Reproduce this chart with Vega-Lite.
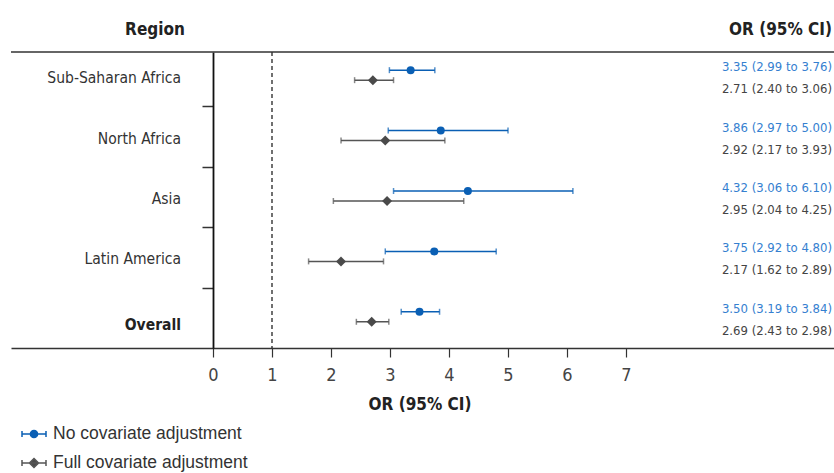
{
  "$schema": "https://vega.github.io/schema/vega-lite/v6.json",
  "width": 823,
  "height": 296,
  "padding": {"left": 11, "top": 52, "right": 0, "bottom": 125},
  "autosize": {"type": "none"},
  "background": "white",
  "config": {
    "view": {"stroke": null},
    "font": "DejaVu Sans Condensed, Liberation Sans, sans-serif"
  },
  "datasets": {
    "estimates": [
      {"region": "Sub-Saharan Africa", "row": 1, "series": "No covariate adjustment", "or": 3.35, "lo": 2.99, "hi": 3.76, "label": "3.35 (2.99 to 3.76)"},
      {"region": "Sub-Saharan Africa", "row": 1, "series": "Full covariate adjustment", "or": 2.71, "lo": 2.40, "hi": 3.06, "label": "2.71 (2.40 to 3.06)"},
      {"region": "North Africa", "row": 2, "series": "No covariate adjustment", "or": 3.86, "lo": 2.97, "hi": 5.00, "label": "3.86 (2.97 to 5.00)"},
      {"region": "North Africa", "row": 2, "series": "Full covariate adjustment", "or": 2.92, "lo": 2.17, "hi": 3.93, "label": "2.92 (2.17 to 3.93)"},
      {"region": "Asia", "row": 3, "series": "No covariate adjustment", "or": 4.32, "lo": 3.06, "hi": 6.10, "label": "4.32 (3.06 to 6.10)"},
      {"region": "Asia", "row": 3, "series": "Full covariate adjustment", "or": 2.95, "lo": 2.04, "hi": 4.25, "label": "2.95 (2.04 to 4.25)"},
      {"region": "Latin America", "row": 4, "series": "No covariate adjustment", "or": 3.75, "lo": 2.92, "hi": 4.80, "label": "3.75 (2.92 to 4.80)"},
      {"region": "Latin America", "row": 4, "series": "Full covariate adjustment", "or": 2.17, "lo": 1.62, "hi": 2.89, "label": "2.17 (1.62 to 2.89)"},
      {"region": "Overall", "row": 5, "series": "No covariate adjustment", "or": 3.50, "lo": 3.19, "hi": 3.84, "label": "3.50 (3.19 to 3.84)"},
      {"region": "Overall", "row": 5, "series": "Full covariate adjustment", "or": 2.69, "lo": 2.43, "hi": 2.98, "label": "2.69 (2.43 to 2.98)"}
    ],
    "regions": [
      {"region": "Sub-Saharan Africa", "row": 1},
      {"region": "North Africa", "row": 2},
      {"region": "Asia", "row": 3},
      {"region": "Latin America", "row": 4},
      {"region": "Overall", "row": 5}
    ],
    "headers": [
      {"text": "Region", "col": "left"},
      {"text": "OR (95% CI)", "col": "right"}
    ],
    "reference": [{"null_or": 1}]
  },
  "layer": [
    {
      "data": {"name": "estimates"},
      "transform": [{"filter": "datum.series === 'No covariate adjustment'"}],
      "mark": {"type": "rule", "color": "#0a5fb4", "strokeWidth": 1.5, "yOffset": -6},
      "encoding": {
        "x": {
          "field": "lo", "type": "quantitative",
          "scale": {"domain": [-3.4237, 10.5254], "nice": false, "zero": false},
          "axis": {
            "orient": "bottom", "values": [0, 1, 2, 3, 4, 5, 6, 7], "format": "d", "grid": false,
            "domainColor": "#333333", "domainWidth": 1.5,
            "tickColor": "#333333", "tickWidth": 1.2, "tickSize": 9,
            "labelFontSize": 18, "labelColor": "#444444", "labelPadding": 9,
            "title": "OR (95% CI)", "titleFontSize": 17, "titleFontWeight": "bold", "titleColor": "#222222",
            "titleX": 408.5, "titleY": 61, "titleBaseline": "alphabetic", "titleAlign": "center"
          }
        },
        "x2": {"field": "hi"},
        "y": {
          "field": "row", "type": "quantitative",
          "scale": {"domain": [0.6, 5.5], "reverse": true, "nice": false, "zero": false},
          "axis": {
            "orient": "left", "offset": -202, "values": [1.5, 2.5, 3.5, 4.5], "labels": false, "grid": false,
            "tickSize": 11, "tickColor": "#333333", "tickWidth": 1.5,
            "domainColor": "#111111", "domainWidth": 1.8, "title": null
          }
        }
      }
    },
    {
      "data": {"name": "reference"},
      "mark": {"type": "rule", "color": "#111111", "strokeWidth": 1.2, "strokeDash": [4, 3]},
      "encoding": {"x": {"field": "null_or", "type": "quantitative"}}
    },
    {
      "data": {"values": [{"line": "top"}]},
      "mark": {"type": "rule", "color": "#333333", "strokeWidth": 1.5},
      "encoding": {"y": {"datum": 0.6, "type": "quantitative"}}
    },
    {
      "data": {"name": "estimates"},
      "transform": [{"filter": "datum.series === 'No covariate adjustment'"}],
      "mark": {"type": "tick", "orient": "vertical", "color": "#0a5fb4", "size": 6, "thickness": 1.5, "yOffset": -6},
      "encoding": {"x": {"field": "lo", "type": "quantitative"}, "y": {"field": "row", "type": "quantitative"}}
    },
    {
      "data": {"name": "estimates"},
      "transform": [{"filter": "datum.series === 'No covariate adjustment'"}],
      "mark": {"type": "tick", "orient": "vertical", "color": "#0a5fb4", "size": 6, "thickness": 1.5, "yOffset": -6},
      "encoding": {"x": {"field": "hi", "type": "quantitative"}, "y": {"field": "row", "type": "quantitative"}}
    },
    {
      "data": {"name": "estimates"},
      "transform": [{"filter": "datum.series === 'Full covariate adjustment'"}],
      "mark": {"type": "rule", "color": "#555555", "strokeWidth": 1.5, "yOffset": 4},
      "encoding": {"x": {"field": "lo", "type": "quantitative"}, "x2": {"field": "hi"}, "y": {"field": "row", "type": "quantitative"}}
    },
    {
      "data": {"name": "estimates"},
      "transform": [{"filter": "datum.series === 'Full covariate adjustment'"}],
      "mark": {"type": "tick", "orient": "vertical", "color": "#555555", "size": 6, "thickness": 1.5, "yOffset": 4},
      "encoding": {"x": {"field": "lo", "type": "quantitative"}, "y": {"field": "row", "type": "quantitative"}}
    },
    {
      "data": {"name": "estimates"},
      "transform": [{"filter": "datum.series === 'Full covariate adjustment'"}],
      "mark": {"type": "tick", "orient": "vertical", "color": "#555555", "size": 6, "thickness": 1.5, "yOffset": 4},
      "encoding": {"x": {"field": "hi", "type": "quantitative"}, "y": {"field": "row", "type": "quantitative"}}
    },
    {
      "data": {"name": "estimates"},
      "transform": [{"filter": "datum.series === 'No covariate adjustment'"}],
      "mark": {"type": "point", "filled": true, "shape": "circle", "size": 64, "opacity": 1, "color": "#0a5fb4", "yOffset": -6},
      "encoding": {
        "x": {"field": "or", "type": "quantitative"},
        "y": {"field": "row", "type": "quantitative"}
      }
    },
    {
      "data": {"name": "estimates"},
      "transform": [{"filter": "datum.series === 'Full covariate adjustment'"}],
      "mark": {"type": "point", "filled": true, "shape": "diamond", "size": 100, "opacity": 1, "color": "#4a4a4a", "yOffset": 4},
      "encoding": {
        "x": {"field": "or", "type": "quantitative"},
        "y": {"field": "row", "type": "quantitative"}
      }
    },
    {
      "data": {"name": "estimates"},
      "mark": {"type": "point", "filled": true, "opacity": 0, "strokeWidth": 1.5},
      "encoding": {
        "x": {"field": "or", "type": "quantitative"},
        "y": {"field": "row", "type": "quantitative"},
        "fill": {
          "field": "series", "type": "nominal",
          "scale": {"domain": ["No covariate adjustment", "Full covariate adjustment"], "range": ["#0a5fb4", "#4a4a4a"]},
          "legend": {
            "orient": "none", "legendX": 10, "legendY": 369, "title": null, "padding": 0,
            "rowPadding": 7, "labelOffset": 6, "labelFont": "Liberation Sans", "labelFontSize": 17.5, "labelColor": "#333333",
            "labelLimit": 400, "symbolSize": 576, "symbolStrokeWidth": 1.5, "symbolOpacity": 1
          }
        },
        "stroke": {
          "field": "series", "type": "nominal",
          "scale": {"domain": ["No covariate adjustment", "Full covariate adjustment"], "range": ["#0a5fb4", "#555555"]},
          "legend": {
            "orient": "none", "legendX": 10, "legendY": 369, "title": null, "padding": 0,
            "rowPadding": 7, "labelOffset": 6, "labelFont": "Liberation Sans", "labelFontSize": 17.5, "labelColor": "#333333",
            "labelLimit": 400, "symbolSize": 576, "symbolStrokeWidth": 1.5, "symbolOpacity": 1
          }
        },
        "shape": {
          "field": "series", "type": "nominal",
          "scale": {
            "domain": ["No covariate adjustment", "Full covariate adjustment"],
            "range": [
              "M-1,0H1M-1,-0.25V0.25M1,-0.25V0.25M-0.3,0A0.3,0.3 0 1,0 0.3,0A0.3,0.3 0 1,0 -0.3,0Z",
              "M-1,0H1M-1,-0.25V0.25M1,-0.25V0.25M0,-0.38L0.38,0L0,0.38L-0.38,0Z"
            ]
          },
          "legend": {
            "orient": "none", "legendX": 10, "legendY": 369, "title": null, "padding": 0,
            "rowPadding": 7, "labelOffset": 6, "labelFont": "Liberation Sans", "labelFontSize": 17.5, "labelColor": "#333333",
            "labelLimit": 400, "symbolSize": 576, "symbolStrokeWidth": 1.5, "symbolOpacity": 1
          }
        }
      }
    },
    {
      "data": {"name": "regions"},
      "transform": [{"filter": "datum.region !== 'Overall'"}],
      "mark": {"type": "text", "align": "right", "baseline": "alphabetic", "dx": -32, "dy": 7, "fontSize": 15.5, "color": "#333333"},
      "encoding": {"x": {"datum": 0, "type": "quantitative"}, "y": {"field": "row", "type": "quantitative"}, "text": {"field": "region"}}
    },
    {
      "data": {"name": "regions"},
      "transform": [{"filter": "datum.region === 'Overall'"}],
      "mark": {"type": "text", "align": "right", "baseline": "alphabetic", "dx": -32, "dy": 12, "fontSize": 15.5, "fontWeight": "bold", "color": "#222222"},
      "encoding": {"x": {"datum": 0, "type": "quantitative"}, "y": {"field": "row", "type": "quantitative"}, "text": {"field": "region"}}
    },
    {
      "data": {"name": "estimates"},
      "transform": [{"filter": "datum.series === 'No covariate adjustment'"}],
      "mark": {"type": "text", "align": "right", "baseline": "alphabetic", "dx": -2, "dy": -5, "fontSize": 13, "color": "#3580d0"},
      "encoding": {"x": {"datum": 10.5254, "type": "quantitative"}, "y": {"field": "row", "type": "quantitative"}, "text": {"field": "label"}}
    },
    {
      "data": {"name": "estimates"},
      "transform": [{"filter": "datum.series === 'Full covariate adjustment'"}],
      "mark": {"type": "text", "align": "right", "baseline": "alphabetic", "dx": -2, "dy": 17, "fontSize": 13, "color": "#444444"},
      "encoding": {"x": {"datum": 10.5254, "type": "quantitative"}, "y": {"field": "row", "type": "quantitative"}, "text": {"field": "label"}}
    },
    {
      "data": {"name": "headers"},
      "transform": [{"filter": "datum.col === 'left'"}],
      "mark": {"type": "text", "align": "center", "baseline": "alphabetic", "dx": -58, "dy": -17, "fontSize": 17, "fontWeight": "bold", "color": "#222222"},
      "encoding": {"x": {"datum": 0, "type": "quantitative"}, "y": {"datum": 0.6, "type": "quantitative"}, "text": {"field": "text"}}
    },
    {
      "data": {"name": "headers"},
      "transform": [{"filter": "datum.col === 'right'"}],
      "mark": {"type": "text", "align": "right", "baseline": "alphabetic", "dx": -2, "dy": -17, "fontSize": 17, "fontWeight": "bold", "color": "#222222"},
      "encoding": {"x": {"datum": 10.5254, "type": "quantitative"}, "y": {"datum": 0.6, "type": "quantitative"}, "text": {"field": "text"}}
    }
  ]
}
